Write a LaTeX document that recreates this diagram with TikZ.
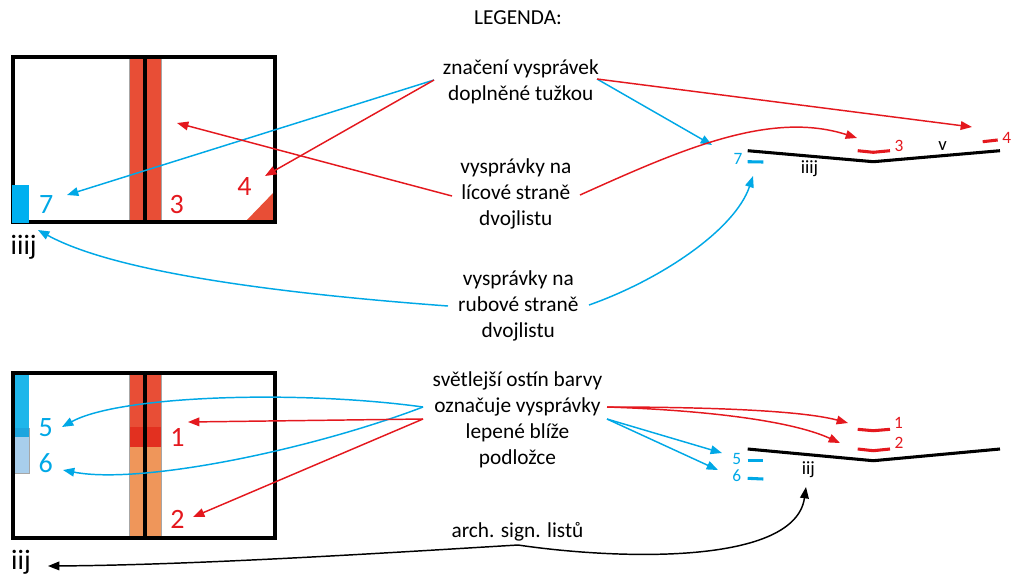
\documentclass[tikz,border=0pt]{standalone}
\usepackage{fontspec}
\setmainfont{Carlito}
\usetikzlibrary{arrows.meta}
\definecolor{lred}{RGB}{228,24,30}
\definecolor{lblue}{RGB}{0,168,230}
\definecolor{stripred}{RGB}{232,78,54}
\definecolor{darkband}{RGB}{226,48,32}
\definecolor{stripor}{RGB}{239,150,90}
\definecolor{bblue}{RGB}{0,176,240}
\definecolor{bblue2}{RGB}{30,182,234}
\definecolor{midblue}{RGB}{30,165,222}
\definecolor{liteblue}{RGB}{168,206,236}
\begin{document}
\begin{tikzpicture}[x=0.75pt,y=-0.75pt,
  every node/.style={inner sep=0pt,outer sep=0pt},
  legtxt/.style={font=\fontsize{16}{19.5}\selectfont,align=center},
  bignum/.style={font=\fontsize{21}{24}\selectfont,anchor=base},
  smallnum/.style={font=\fontsize{13}{15}\selectfont,anchor=base},
  smalltxt/.style={font=\fontsize{14}{16}\selectfont,anchor=base},
  frame/.style={line width=2.5pt},
  midline/.style={line width=3pt},
  edgegray/.style={gray!70,line width=0.6pt},
  arr/.style={line width=1.1pt,-{Triangle[length=8.5pt,width=6.5pt]}},
  redarr/.style={arr,lred},
  bluearr/.style={arr,lblue},
  blackarr/.style={arr,black},
  redtick/.style={lred,line width=2.3pt},
  bluetick/.style={lblue,line width=2.3pt},
  sheet/.style={line width=2.3pt}
]
\useasboundingbox (0,0) rectangle (1013,576);

% ---------- top box ----------
\fill[stripred] (129,57) rectangle (143,222);
\fill[stripred] (146.5,57) rectangle (161,222);
\draw[edgegray] (129,57) -- (129,222);
\draw[edgegray] (161,57) -- (161,222);
\fill[stripred] (245,222) -- (275,222) -- (275,191) -- cycle;
\draw[midline] (144.7,57) -- (144.7,222);
\draw[frame] (13,57) rectangle (275,222);
\fill[bblue] (11.7,185) rectangle (29,223.3);

\node[bignum,lblue] (b7) at (46.3,213.3) {7};
\node[bignum,lred] (b3) at (176.7,213.3) {3};
\node[bignum,lred] (b4) at (244.5,195.7) {4};
\node[bignum] (biiij) at (23.7,254) {iiij};

% ---------- bottom box ----------
\fill[bblue2] (14.5,373) rectangle (29,428);
\fill[midblue] (14.5,428) rectangle (29,437);
\fill[liteblue] (14.5,437) rectangle (29,473);
\draw[edgegray] (14.5,473) -- (29,473) -- (29,428);
\fill[stripred] (129,373) rectangle (143,427);
\fill[darkband] (129,427) rectangle (143,447);
\fill[stripor] (129,447) rectangle (143,538);
\fill[stripred] (146.5,373) rectangle (161,427);
\fill[darkband] (146.5,427) rectangle (161,447);
\fill[stripor] (146.5,447) rectangle (161,538);
\draw[edgegray] (129,373) -- (129,538);
\draw[edgegray] (161,373) -- (161,538);
\draw[midline] (144.7,373) -- (144.7,538);
\draw[frame] (13,373) rectangle (275,538);

\node[bignum,lblue] (b5) at (45.8,436) {5};
\node[bignum,lblue] (b6) at (45.8,472.7) {6};
\node[bignum,lred] (b1) at (177.5,446) {1};
\node[bignum,lred] (b2) at (177.5,528.3) {2};
\node[bignum] (biij) at (21,569) {iij};

% ---------- right schematic, top ----------
\draw[sheet] (747.7,150.7) -- (873.3,161.7) -- (1000,150.7);
\draw[redtick] (857.7,150.7) -- (873.3,152.3) -- (890,150.7);
\draw[redtick] (982.7,141.7) -- (997.7,140);
\draw[bluetick] (747.7,161.7) -- (763.3,162);
\node[smallnum,lred] (s3) at (899,151.7) {3};
\node[smallnum,lred] (s4) at (1006.7,143) {4};
\node[smallnum,lblue] (s7) at (738,164.3) {7};
\node[smalltxt] (sv) at (942.5,150) {v};
\node[smalltxt] (siiij) at (809.5,173.3) {iiij};

% ---------- right schematic, bottom ----------
\draw[sheet] (747.7,449) -- (873.3,460.7) -- (1000,449);
\draw[redtick] (857.7,429.3) -- (873.3,430.7) -- (890,429.3);
\draw[redtick] (857.7,449) -- (873.3,450.7) -- (890,449);
\draw[bluetick] (747.7,460.7) -- (763.3,460.7);
\draw[bluetick] (747.7,478.3) -- (763.3,479);
\node[smallnum,lred] (s1) at (898.5,428.3) {1};
\node[smallnum,lred] (s2) at (899,448.3) {2};
\node[smallnum,lblue] (s5) at (736.7,464) {5};
\node[smallnum,lblue] (s6) at (736.7,481.7) {6};
\node[smalltxt] (siij) at (808.3,474) {iij};

% ---------- legend texts ----------
\node[legtxt] (leg) at (518,18) {LEGENDA:};
\node[legtxt] (zn) at (520.8,81.6) {značení vysprávek\\doplněné tužkou};
\node[legtxt] (lic) at (515.8,194) {vysprávky na\\lícové straně\\dvojlistu};
\node[legtxt] (rub) at (518.3,305.6) {vysprávky na\\rubové straně\\dvojlistu};
\node[legtxt] (sv) at (517.5,420) {světlejší ostín barvy\\označuje vysprávky\\lepené blíže\\podložce};
\node[legtxt] (arch) at (517.5,531.3) {arch. sign. listů};

% ---------- connector ends ----------
\coordinate (znL) at (434,80);
\coordinate (znR) at (597,79);
\coordinate (licL) at (452,196);
\coordinate (licR) at (580,195);
\coordinate (rubL) at (448,306);
\coordinate (rubR) at (589,305);
\coordinate (svL) at (423,407);
\coordinate (svLr) at (423,419);
\coordinate (svR) at (607,407);
\coordinate (svRb) at (607,419);
\coordinate (archP) at (518,545);

\coordinate (t7) at (67,195);
\coordinate (t4) at (265,176);
\coordinate (tz) at (712,145);
\coordinate (tr4) at (972,127);
\coordinate (t3) at (177,123);
\coordinate (tr3) at (857,138);
\coordinate (tiiij) at (38,230);
\coordinate (tr7) at (753,176);
\coordinate (t5) at (62,427);
\coordinate (t6) at (63,470);
\coordinate (t1) at (188,422);
\coordinate (t2) at (193,517);
\coordinate (tr1) at (848,423);
\coordinate (tr2) at (840,443);
\coordinate (tr5) at (722,453);
\coordinate (tr6) at (718,470);
\coordinate (tiij) at (48,566);
\coordinate (triij) at (806,487);

% ---------- connectors ----------
\draw[bluearr] (znL) -- (t7);
\draw[redarr] (znL) -- (t4);
\draw[bluearr] (znR) -- (tz);
\draw[redarr] (znR) -- (tr4);
\draw[redarr] (licL) -- (t3);
\draw[redarr] (licR) .. controls (680,150) and (770,110) .. (tr3);
\draw[bluearr] (rubL) .. controls (300,295) and (120,275) .. (tiiij);
\draw[bluearr] (rubR) .. controls (660,280) and (735,230) .. (tr7);
\draw[bluearr] (svL) .. controls (300,390) and (120,395) .. (t5);
\draw[bluearr] (svL) .. controls (310,450) and (140,485) .. (t6);
\draw[redarr] (svLr) -- (t1);
\draw[redarr] (svLr) -- (t2);
\draw[redarr] (svR) .. controls (700,407) and (800,410) .. (tr1);
\draw[redarr] (svR) .. controls (700,410) and (790,420) .. (tr2);
\draw[bluearr] (svRb) -- (tr5);
\draw[bluearr] (svRb) -- (tr6);
\draw[blackarr] (archP) .. controls (400,552) and (200,565) .. (tiij);
\draw[blackarr] (archP) .. controls (620,560) and (795,565) .. (triij);
\end{tikzpicture}
\end{document}
